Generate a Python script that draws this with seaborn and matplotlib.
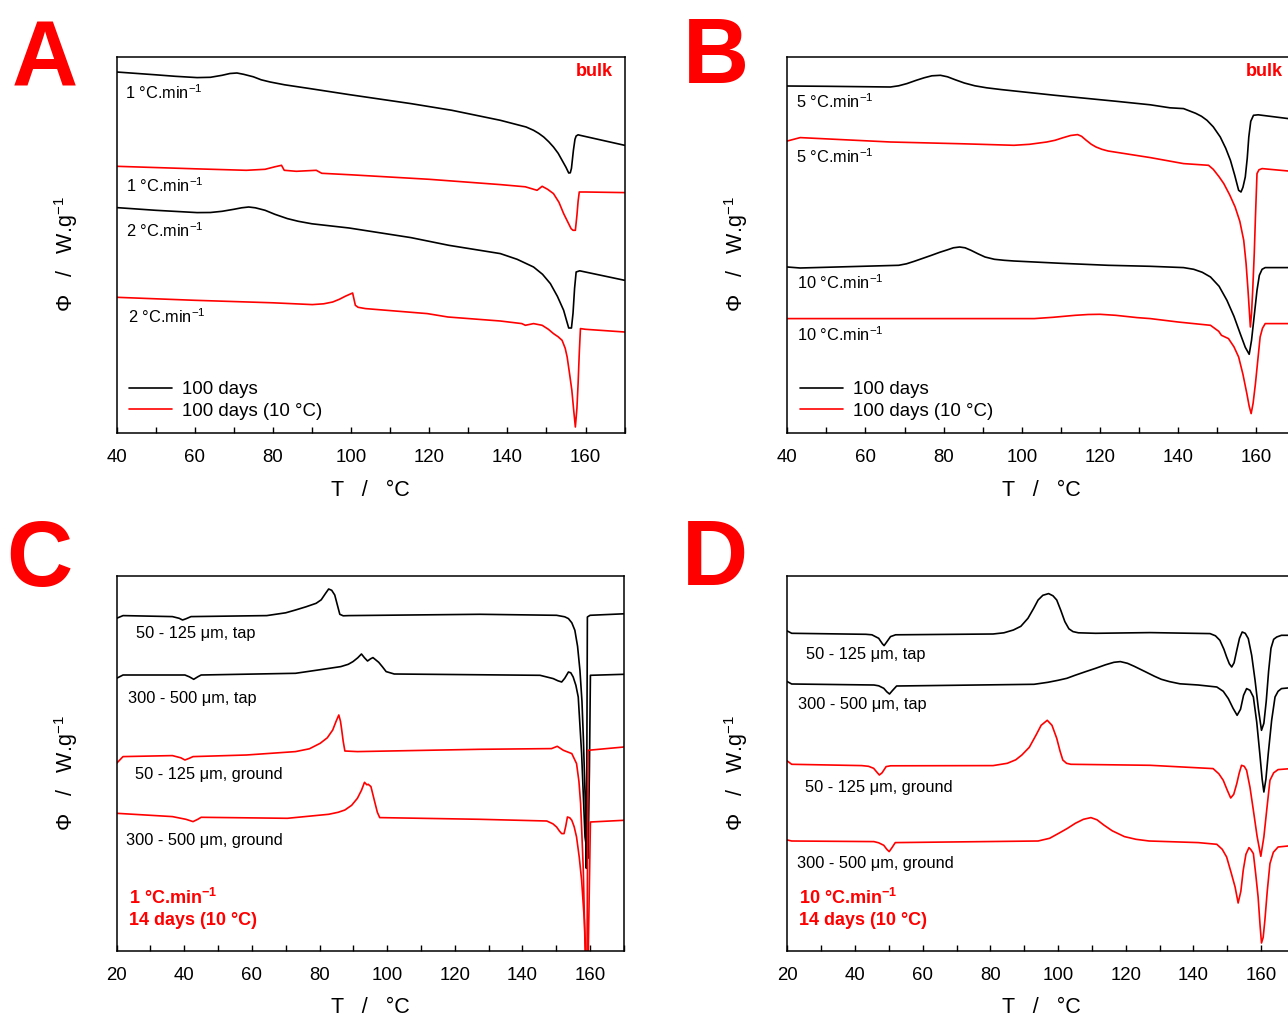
import matplotlib
matplotlib.use("Agg")
import matplotlib.pyplot as plt
import seaborn as sns
import pandas as pd
from matplotlib.ticker import MultipleLocator

sns.set_theme(style="white")
plt.rcParams["font.family"] = ["Liberation Sans", "DejaVu Sans"]
plt.rcParams["mathtext.fontset"] = "custom"
plt.rcParams["mathtext.rm"] = "Liberation Sans"
plt.rcParams["mathtext.it"] = "Liberation Sans:italic"
plt.rcParams["mathtext.bf"] = "Liberation Sans:bold"
for key in ["text.color", "axes.labelcolor", "xtick.color", "ytick.color"]:
    plt.rcParams[key] = "black"

BLACK = "#000000"
RED = "#ff0000"

# ---------------- Panel A (bulk, 1 and 2 °C/min) ----------------
A_T_b1 = [40, 50, 55, 60.6, 64, 67, 69, 70.8, 72.5, 75, 77, 79.3, 83, 89.5, 99.5, 115.3, 125.8, 138.2, 144.8, 146.7, 148, 149.3, 150.6, 151.8, 153, 154, 155, 155.7, 156.1, 156.4, 156.9, 157.3, 157.6, 158.1, 158.6, 170]
A_v_b1 = [361.3, 358.5, 357, 355.7, 356, 358, 359.8, 360.3, 359, 356.5, 353.5, 351.3, 348.5, 344.7, 338.7, 329.7, 323, 313, 306.3, 303, 300, 296.3, 291.5, 286.3, 280, 273, 266, 260.3, 260.5, 265, 283, 294, 297.3, 298.5, 298, 288]
A_T_r1 = [40, 60, 73.2, 78, 80.5, 82.2, 82.9, 86, 91.1, 92.5, 100, 120, 138.2, 144.6, 147.6, 148.9, 150.3, 151.8, 153.2, 154.4, 155.5, 156.3, 156.8, 157.4, 157.8, 158.1, 158.4, 160, 170]
A_v_r1 = [267, 264.5, 263, 264, 266.5, 268, 263, 262, 263, 260, 258.5, 254, 248.7, 246.5, 243, 247, 244, 239.7, 231, 219.7, 211, 204.7, 203, 203, 218, 232, 241.3, 241.3, 240.7]
A_T_b2 = [40, 50, 60.6, 64, 67, 70, 72, 73.8, 75.5, 78, 80.5, 83.7, 86.5, 90, 99.5, 115.3, 125, 138.2, 142.5, 146.7, 149, 151, 152.8, 154.4, 155.2, 155.7, 156.4, 156.8, 157.2, 157.6, 158.5, 170]
A_v_b2 = [225.7, 223, 220.7, 220.8, 222, 224, 225.5, 226.3, 225.5, 223, 219, 214.7, 212, 209.5, 205.3, 195.7, 188, 179.7, 174, 166.3, 159, 149.7, 137, 123, 112, 105.3, 105.3, 120, 145, 161.3, 162.5, 153]
A_T_r2 = [40, 60, 80, 90.1, 93, 95.3, 97, 98.5, 100.4, 101.1, 101.8, 103.7, 119.5, 124.8, 138.2, 143.7, 144.6, 146.7, 148.9, 150.5, 151.8, 153, 154, 154.8, 155.3, 155.9, 156.5, 157, 157.4, 157.8, 158.1, 158.4, 158.7, 160, 170]
A_v_r2 = [136, 133, 130.5, 128.7, 129.5, 131.3, 134, 137, 140.3, 128, 126, 124.7, 119.7, 116.3, 112.3, 109.7, 108, 109.7, 108, 104, 99.7, 96.5, 93, 85, 76.3, 60, 43, 22, 6.3, 25, 49.7, 80, 104.7, 104, 101.3]
A_labels = ["1 °C.min$^{-1}$", "1 °C.min$^{-1}$", "2 °C.min$^{-1}$", "2 °C.min$^{-1}$"]
A_label_T = [42.2, 42.4, 42.4, 42.9]
A_label_v = [341, 248, 203, 117]

# ---------------- Panel B (bulk, 5 and 10 °C/min) ----------------
B_T_b5 = [40, 50, 66.4, 68.5, 70.6, 73, 75, 77, 79.2, 81, 83, 85.3, 88, 91, 94.8, 108.5, 124.2, 132.9, 137.9, 141.4, 144.5, 146, 147.4, 149, 150.8, 152.2, 153.4, 154.5, 155.5, 156.1, 156.6, 157.2, 157.7, 158.1, 158.6, 159.3, 160.5, 168.2, 170]
B_v_b5 = [347.3, 347, 346.3, 347.5, 349.7, 353, 355.5, 357.5, 358, 356.5, 353.5, 350.3, 347.5, 345.5, 343.7, 338, 332, 328.5, 325.5, 324.7, 320, 317, 313, 306.5, 296.3, 285, 273, 258, 243, 241.3, 246, 256.3, 275, 296.3, 312, 318, 318.5, 314.7, 314]
B_T_r5 = [40, 43.3, 66.4, 85, 98, 102, 106.4, 108.5, 110.5, 112.5, 114.3, 115.3, 116.5, 117.8, 119, 120.5, 122.1, 132.9, 141.4, 147.8, 149, 150.5, 151.7, 153.2, 154.6, 155.8, 156.8, 157.4, 157.9, 158.5, 158.8, 159.1, 159.5, 159.8, 160.2, 160.7, 161.5, 168.2, 170]
B_v_r5 = [292.3, 295.7, 291.3, 289.5, 288, 289, 291.3, 293, 295.5, 297.8, 298.7, 297, 293, 289, 286.3, 284, 282.3, 275.7, 269.7, 268, 264, 256.5, 249.7, 238.5, 226.3, 212, 193, 170, 143, 106.3, 120, 143, 180, 216.3, 259.7, 263.5, 264.7, 262.3, 262]
B_T_b10 = [40, 43.3, 68.5, 70.5, 72.5, 74.7, 76.9, 79, 81, 82.5, 84.1, 85.5, 87, 88.8, 90.6, 93, 95.5, 98, 110, 122.1, 132.9, 141.4, 144, 146.2, 148.3, 150.5, 152.5, 154.3, 155.9, 157.2, 158.2, 158.8, 159.5, 160.2, 160.8, 161.5, 162.3, 170]
B_v_b10 = [166.3, 165.3, 168, 169.5, 172, 175, 178, 181, 183.5, 185.5, 186.3, 185.5, 183, 179.5, 176.3, 174, 173, 172.3, 170, 168, 167, 165.7, 164, 161, 156.3, 147, 133, 117, 99.7, 86, 79, 93, 118, 143, 158, 164, 165.7, 165.7]
B_T_r10 = [40, 103.2, 108, 113.7, 117, 120, 124, 129.5, 132.9, 140, 144, 148.3, 150.4, 151.1, 152.9, 154.3, 155.5, 156.6, 157.6, 158.2, 158.7, 159.2, 159.8, 160.4, 161, 161.6, 162.3, 170]
B_v_r10 = [114.7, 114.7, 116, 118, 118.8, 119, 118, 115.7, 114.7, 111.3, 109.7, 108, 102, 98, 94.7, 86.5, 76.3, 59, 39.7, 27, 19.7, 30, 49.7, 73, 96.3, 105, 109.7, 109.7]
B_labels = ["5 °C.min$^{-1}$", "5 °C.min$^{-1}$", "10 °C.min$^{-1}$", "10 °C.min$^{-1}$"]
B_label_T = [42.2, 42.2, 42.5, 42.5]
B_label_v = [332, 277, 151, 99]

# ---------------- Panel C (sieve fractions, 1 °C/min) ----------------
C_T_b1 = [20, 21.9, 36.5, 38.5, 39.5, 40.5, 42, 64.4, 70, 72.9, 76, 79, 80.5, 81.8, 82.7, 83.6, 84.5, 85.3, 86, 87, 88.7, 127.4, 150.1, 152.5, 153.6, 154.6, 155.5, 156.3, 157, 157.6, 158, 158.6, 158.9, 159.05, 159.2, 160, 170]
C_v_b1 = [333, 335.7, 334.7, 333, 331.3, 332.5, 334.7, 335.7, 338.5, 341.3, 344.5, 348, 351.5, 358, 362.3, 361, 356.3, 346, 337, 335.5, 335.7, 337, 336, 334.5, 332.7, 328.5, 321, 305, 281, 250, 214.3, 147.7, 83, 200, 334.3, 336, 337.5]
C_T_b2 = [20, 21.9, 40.2, 41.5, 42.8, 44, 45, 72.9, 80, 86.3, 88.5, 89.9, 91.3, 92.4, 93.3, 94.2, 95.1, 95.8, 96.6, 97.5, 98.6, 99.7, 102.1, 145.2, 149.1, 150.5, 151.6, 152.5, 153.6, 154.3, 155, 155.8, 156.5, 157.5, 158.5, 159.4, 159.8, 160.1, 170]
C_v_b2 = [273, 276.3, 276.3, 274.5, 272, 274.5, 276.3, 278, 281.5, 284.7, 287, 289.7, 293.5, 297.3, 293.5, 290.3, 292.5, 293.7, 291.5, 289, 284.5, 279.7, 277.3, 276, 272.7, 270.5, 269.3, 273, 279.3, 278.5, 274.3, 266, 254.3, 197.7, 114.3, 93, 180, 276, 277]
C_T_r1 = [20, 21.9, 36.5, 39, 40.2, 41.5, 42.6, 58.4, 72.9, 77, 80.2, 82.3, 83.9, 84.9, 85.7, 86.2, 86.5, 87, 87.5, 91.2, 127.4, 148.6, 150.3, 152.1, 154.6, 156, 156.7, 157.2, 157.6, 158, 158.6, 159.1, 159.4, 170]
C_v_r1 = [188, 194.7, 195.7, 193.5, 191.3, 193, 194.7, 196.3, 199.7, 202.5, 208, 213.5, 221.3, 230, 236.3, 230, 223, 210, 200.3, 199.7, 202, 202.7, 205, 201, 197.7, 187.7, 170, 147.7, 115, 81, -9, -9, 201, 204.3]
C_T_r2 = [20, 36.5, 40.5, 42.6, 44, 45, 70.5, 82.7, 85.5, 87.5, 89.5, 91.2, 92.4, 93.3, 94, 94.4, 95.2, 96.3, 97.1, 97.8, 127.4, 147.2, 149, 150.1, 151, 151.6, 152.3, 152.8, 153.3, 154, 154.6, 155.3, 156, 156.8, 157.5, 158.3, 158.9, 159.4, 160.1, 170]
C_v_r2 = [138, 134.7, 132, 129.7, 132, 134, 133, 137, 139, 141.3, 146, 153, 161, 169, 166.5, 167, 164.7, 149.7, 139, 133.7, 132, 130.3, 127.5, 124.3, 120, 117.7, 117.7, 125, 134.3, 133.5, 131, 124.5, 114.3, 94, 71, 31, -14, -14, 129.3, 131]
C_labels = ["50 - 125 μm, tap", "300 - 500 μm, tap", "50 - 125 μm, ground", "300 - 500 μm, ground"]
C_label_T = [25.7, 23.4, 25.4, 22.8]
C_label_v = [318, 253, 177, 111]

# ---------------- Panel D (sieve fractions, 10 °C/min) ----------------
D_T_b1 = [20, 21.3, 43.2, 45, 47, 48.1, 48.6, 49.2, 50.5, 52, 80.8, 84, 86.8, 89, 91.1, 92.8, 94.1, 95.5, 97.2, 98.5, 99.6, 100.8, 102, 103.2, 104.4, 106, 111.1, 127.2, 144.9, 146.5, 147.8, 149, 149.8, 150.6, 151.3, 152, 152.8, 153.6, 154.4, 155.3, 156.2, 157.2, 158.2, 159.2, 160.1, 160.8, 161.5, 162.2, 162.9, 163.7, 164.6, 166, 170]
D_v_b1 = [320.3, 318, 317, 316.5, 313, 307.5, 305.7, 308.5, 314.7, 316.5, 317.3, 318.5, 321.3, 325, 333, 343, 351.3, 356, 357.7, 355.5, 351.3, 341, 329.7, 322.5, 319.7, 318.5, 318, 318.7, 317.7, 315.5, 311, 302, 294.3, 287.5, 284.3, 288.5, 301, 313, 319.3, 318, 312.7, 296, 271, 242, 221, 228, 250, 280, 303, 312, 314.3, 316, 316]
D_T_b2 = [20, 21.3, 45.6, 47, 48.5, 49.4, 50.2, 51, 52.3, 92.9, 97, 100, 102.6, 105, 108, 111.1, 114, 116.5, 118.4, 120.5, 122.5, 125.7, 128.5, 130.5, 132.9, 136, 141.4, 146.9, 148.8, 150.3, 151.7, 152.9, 153.9, 154.8, 155.7, 156.7, 157.7, 158.7, 159.6, 160.3, 160.8, 161.4, 162.1, 163.1, 164.1, 165, 166, 170]
D_v_b2 = [269.7, 267.3, 266.3, 265.5, 263, 259.5, 257.3, 260.5, 265.3, 267, 269, 271, 273, 276, 279.5, 283, 286.5, 289, 289.7, 288, 285, 279.7, 275, 272, 269.7, 267.5, 266.3, 264.3, 260, 252.7, 243, 236, 242, 256, 262.7, 261, 254.3, 229, 197.7, 172, 159.3, 172, 197.7, 231, 254.3, 260, 262.7, 264]
D_T_r1 = [20, 21.3, 42, 44, 45.5, 46.5, 47.2, 48, 49.2, 50.5, 80.8, 85, 87.5, 89.3, 91.5, 93.5, 95, 96.8, 98.2, 99.6, 100.6, 101.4, 102.5, 103.8, 127.2, 145.8, 147.5, 148.8, 150, 151, 151.9, 152.8, 153.5, 154.2, 155, 155.7, 156.7, 157.7, 158.8, 159.9, 160.8, 161.7, 162.6, 163.7, 165, 170]
D_v_r1 = [190.3, 187, 185.7, 185, 183, 179, 176.3, 178.5, 184.7, 185.5, 185.7, 188, 191.5, 196.3, 204, 216.3, 226, 231, 226, 213, 200, 191.3, 188, 187, 186, 182.7, 177.5, 171, 161, 153.3, 157, 167.7, 178, 186, 185, 181, 164, 141, 115, 95, 114.3, 143, 171, 178.5, 181.7, 183]
D_T_r2 = [20, 21.3, 45.6, 47, 48.5, 49.4, 50.1, 50.9, 51.9, 94.1, 97.5, 100.2, 102.8, 105.1, 107.5, 109.7, 111.5, 113.5, 116, 119.6, 123, 126.9, 141.4, 146.9, 148.5, 149.8, 151.1, 152.3, 153.2, 154, 154.7, 155.5, 156.4, 157, 157.7, 158.4, 159.1, 159.7, 160.1, 160.6, 161.1, 161.8, 162.6, 163.6, 165, 170]
D_v_r2 = [111.3, 110.3, 109.7, 108.5, 106, 102, 99.7, 103.5, 108.7, 110.3, 113, 118, 123, 128, 132, 133.7, 131.5, 126.3, 120.5, 114.7, 112, 110.3, 108.7, 107, 102, 94.3, 79, 64.3, 48.3, 60, 81, 97, 103.7, 101.5, 97.7, 77, 54.3, 25, 8.3, 14, 31, 60, 87.7, 99, 104.3, 106]
D_labels = ["50 - 125 μm, tap", "300 - 500 μm, tap", "50 - 125 μm, ground", "300 - 500 μm, ground"]
D_label_T = [25.5, 23.2, 25.3, 22.8]
D_label_v = [297, 247, 164, 88]

LEGEND_LABELS = ["100 days", "100 days (10 °C)"]

W, H = 1288, 1016
fig = plt.figure(figsize=(W / 100, H / 100), dpi=100)


def add_axes(left_px, top_px, right_px, bottom_px):
    return fig.add_axes([left_px / W, 1 - bottom_px / H,
                         (right_px - left_px) / W, (bottom_px - top_px) / H])


def style(ax, xlim, ylim, major):
    ax.set_xlim(*xlim)
    ax.set_ylim(*ylim)
    ax.set_yticks([])
    ax.xaxis.set_major_locator(MultipleLocator(major))
    ax.xaxis.set_minor_locator(MultipleLocator(major / 2))
    ax.tick_params(axis="x", which="both", direction="in", length=4.5, width=1.0,
                   bottom=True, top=False, pad=11, labelsize=13.4, colors="black")
    for s in ax.spines.values():
        s.set_visible(True)
        s.set_color("black")
        s.set_linewidth(1.1)
    ax.set_xlabel("T   /   °C", fontsize=15.5, color="black")
    ax.set_ylabel("Φ   /   W.g$^{-1}$", fontsize=15.5, color="black")
    ax.xaxis.set_label_coords(0.5, -0.123)
    ax.yaxis.set_label_coords(-0.073, 0.475)
    ax.set_facecolor("white")


def draw(ax, curves):
    for T, v, color, lab in curves:
        df = pd.DataFrame({"T": T, "v": v})
        sns.lineplot(data=df, x="T", y="v", color=color, linewidth=1.2,
                     estimator=None, sort=False, ax=ax, label=lab)
    if ax.get_legend() is not None:
        ax.get_legend().remove()


def labels(ax, texts, xs, ys, **kw):
    for t, x, y in zip(texts, xs, ys):
        ax.text(x, y, t, ha="left", va="center", fontsize=11.8, color="black", **kw)


# Panel A
axA = add_axes(116.6, 56.7, 624.6, 433.3)
draw(axA, [(A_T_b1, A_v_b1, BLACK, LEGEND_LABELS[0]), (A_T_r1, A_v_r1, RED, LEGEND_LABELS[1]),
           (A_T_b2, A_v_b2, BLACK, None), (A_T_r2, A_v_r2, RED, None)])
style(axA, (40, 170), (0, 376.6), 20)
labels(axA, A_labels, A_label_T, A_label_v)
axA.text(166.9, 362, "bulk", ha="right", va="center", fontsize=13, color=RED, fontweight="bold")

# Panel B
axB = add_axes(787.3, 56.7, 1295.3, 433.3)
draw(axB, [(B_T_b5, B_v_b5, BLACK, LEGEND_LABELS[0]), (B_T_r5, B_v_r5, RED, LEGEND_LABELS[1]),
           (B_T_b10, B_v_b10, BLACK, None), (B_T_r10, B_v_r10, RED, None)])
style(axB, (40, 170), (0, 376.6), 20)
labels(axB, B_labels, B_label_T, B_label_v)
axB.text(166.7, 362, "bulk", ha="right", va="center", fontsize=13, color=RED, fontweight="bold")

for ax, x0 in [(axA, 0.024), (axB, 0.025)]:
    h, l = ax.get_legend_handles_labels()
    leg = ax.legend(h, l, loc="center left", bbox_to_anchor=(x0, 0.087), frameon=False,
                    fontsize=13.4, handlelength=2.3, handletextpad=0.55, labelspacing=0.22,
                    borderpad=0, borderaxespad=0)
    for t in leg.get_texts():
        t.set_color("black")

# Panel C
axC = add_axes(116.6, 575.7, 623.9, 951.3)
draw(axC, [(C_T_b1, C_v_b1, BLACK, None), (C_T_b2, C_v_b2, BLACK, None),
           (C_T_r1, C_v_r1, RED, None), (C_T_r2, C_v_r2, RED, None)])
style(axC, (20, 170), (0, 375.6), 20)
labels(axC, C_labels, C_label_T, C_label_v)
axC.text(23.7, 53, "1 °C.min$^{\\mathbf{-1}}$", ha="left", va="center", fontsize=13,
         color=RED, fontweight="bold")
axC.text(23.7, 31, "14 days (10 °C)", ha="left", va="center", fontsize=13,
         color=RED, fontweight="bold")

# Panel D
axD = add_axes(787.3, 575.7, 1295.0, 951.3)
draw(axD, [(D_T_b1, D_v_b1, BLACK, None), (D_T_b2, D_v_b2, BLACK, None),
           (D_T_r1, D_v_r1, RED, None), (D_T_r2, D_v_r2, RED, None)])
style(axD, (20, 170), (0, 375.6), 20)
labels(axD, D_labels, D_label_T, D_label_v)
axD.text(23.5, 53, "10 °C.min$^{\\mathbf{-1}}$", ha="left", va="center", fontsize=13,
         color=RED, fontweight="bold")
axD.text(23.5, 31, "14 days (10 °C)", ha="left", va="center", fontsize=13,
         color=RED, fontweight="bold")

# Panel letters
for letter, x, y in [("A", 0.0093, 0.9163), ("B", 0.530, 0.918),
                     ("C", 0.0045, 0.4232), ("D", 0.5295, 0.4242)]:
    fig.text(x, y, letter, fontsize=66, fontweight="bold", color=RED,
             ha="left", va="baseline")

fig.savefig("out.png", dpi=100, facecolor="white")
